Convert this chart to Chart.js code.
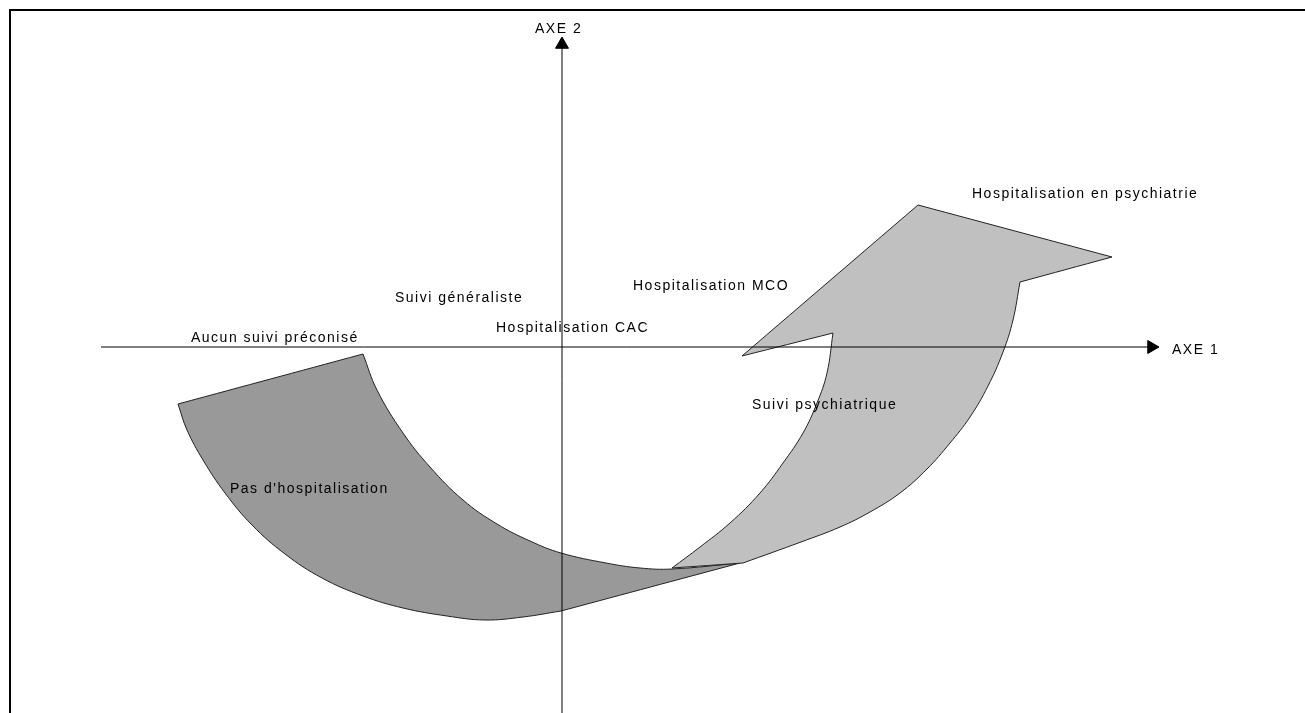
<!DOCTYPE html>
<html>
<head>
<meta charset="utf-8">
<script src="https://cdn.jsdelivr.net/npm/chart.js@4/dist/chart.umd.min.js"></script>
<style>
  html, body { margin: 0; padding: 0; background: #fff; overflow: hidden; }
  #wrap { position: relative; width: 1305px; height: 713px; }
  #frame { position: absolute; left: 9px; top: 9px; right: -10px; bottom: -10px;
           border-top: 2px solid #000; border-left: 2px solid #000; }
  canvas { position: absolute; left: 0; top: 0; }
</style>
</head>
<body>
<div id="wrap">
  <div id="frame"></div>
  <canvas id="chart" width="1305" height="713"></canvas>
</div>
<script>
// Plan factoriel : AXE 1 (horizontal) x AXE 2 (vertical)

// Pas d'hospitalisation (zone foncée) - contour, coins doublés
const darkX = [-3.84, -3.84, -1.99, -1.99, -1.85, -1.59, -1.32, -0.99, -0.65, -0.32, -0.01, 0.44, 0.78, 1.10,
    1.78, 1.78, -0.01, -0.01, -0.39, -0.77, -1.15, -1.59, -1.99, -2.40, -2.77, -3.10, -3.37, -3.59, -3.75, -3.84, -3.84];
const darkY = [-0.57, -0.57, -0.07, -0.07, -0.43, -0.86, -1.20, -1.53, -1.77, -1.94, -2.06, -2.16, -2.21, -2.22,
    -2.16, -2.16, -2.64, -2.64, -2.70, -2.73, -2.69, -2.61, -2.49, -2.31, -2.07, -1.78, -1.46, -1.13, -0.83, -0.57, -0.57];

// Flèche vers l'hospitalisation en psychiatrie (zone claire)
const lightX = [1.10, 1.10, 1.38, 1.68, 1.98, 2.21, 2.41, 2.55, 2.65, 2.71, 2.71, 1.80, 1.80, 3.56, 3.56,
    5.50, 5.50, 4.58, 4.58, 4.51, 4.41, 4.26, 4.08, 3.88, 3.65, 3.38, 3.08, 2.78, 2.39, 1.81, 1.81, 1.10, 1.10];
const lightY = [-2.21, -2.21, -2.00, -1.76, -1.46, -1.16, -0.86, -0.56, -0.26, 0.14, 0.14, -0.09, -0.09, 1.42, 1.42,
    0.90, 0.90, 0.65, 0.65, 0.27, -0.05, -0.39, -0.70, -0.96, -1.22, -1.46, -1.65, -1.80, -1.95, -2.16, -2.16, -2.21, -2.21];

// Axes
const axe1X = [-4.61, 5.895];
const axe2Y = [-3.70, 3.025];

// Libellés des modalités
const labelTexts = ["AXE 2", "AXE 1", "Aucun suivi préconisé", "Suivi généraliste", "Hospitalisation CAC",
    "Hospitalisation MCO", "Hospitalisation en psychiatrie", "Suivi psychiatrique", "Pas d'hospitalisation"];
const labelX = [-0.27, 6.10, -3.71, -1.67, -0.66, 0.71, 4.10, 1.90, -3.32];
const labelY = [3.18, -0.03, 0.09, 0.49, 0.19, 0.61, 1.53, -0.58, -1.42];

const toPoints = (xs, ys) => xs.map((x, i) => ({x: x, y: ys[i]}));

const labelPlugin = {
    id: "labels",
    afterDatasetsDraw(chart) {
        const {ctx, scales: {x, y}} = chart;
        ctx.save();
        ctx.font = '14px "Liberation Sans", Arial, sans-serif';
        ctx.letterSpacing = "1.5px";
        ctx.fillStyle = "#000";
        ctx.textBaseline = "middle";
        ctx.textAlign = "left";
        labelTexts.forEach((t, i) => {
            ctx.fillText(t, x.getPixelForValue(labelX[i]), y.getPixelForValue(labelY[i]));
        });
        ctx.restore();
    }
};

new Chart(document.getElementById("chart"), {
    type: "line",
    data: {
        datasets: [
            {
                data: axe1X.map(v => ({x: v, y: 0})),
                borderColor: "#000", borderWidth: 1, tension: 0,
                pointRadius: [0, 7.5], pointStyle: "triangle", pointRotation: 90,
                pointBackgroundColor: "#000", pointBorderColor: "#000", pointBorderWidth: 1,
                fill: false, order: 0
            },
            {
                data: axe2Y.map(v => ({x: 0, y: v})),
                borderColor: "#000", borderWidth: 1, tension: 0,
                pointRadius: [0, 7.5], pointStyle: "triangle", pointRotation: 0,
                pointBackgroundColor: "#000", pointBorderColor: "#000", pointBorderWidth: 1,
                fill: false, order: 0
            },
            {
                data: toPoints(lightX, lightY),
                borderColor: "#222", borderWidth: 1, backgroundColor: "#c0c0c0",
                tension: 0.4, pointRadius: 0, fill: "shape", order: 1
            },
            {
                data: toPoints(darkX, darkY),
                borderColor: "#222", borderWidth: 1, backgroundColor: "#999999",
                tension: 0.4, pointRadius: 0, fill: "shape", order: 2
            }
        ]
    },
    options: {
        responsive: false,
        devicePixelRatio: 1,
        animation: false,
        events: [],
        layout: { padding: 0, autoPadding: false },
        plugins: {
            legend: { display: false },
            tooltip: { enabled: false }
        },
        scales: {
            x: { type: "linear", min: -5.62, max: 7.43, display: false },
            y: { type: "linear", min: -3.66, max: 3.47, display: false }
        }
    },
    plugins: [labelPlugin]
});
</script>
</body>
</html>
